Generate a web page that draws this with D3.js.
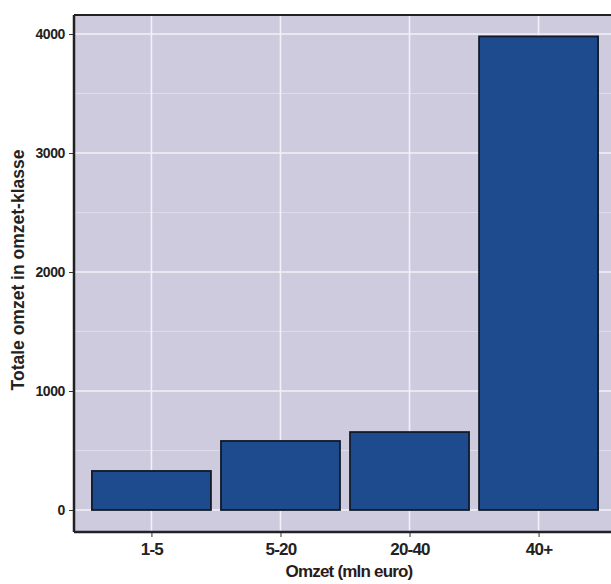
<!DOCTYPE html>
<html><head><meta charset="utf-8">
<script src="https://cdn.jsdelivr.net/npm/d3@7"></script>
<style>body{margin:0;background:#fff}svg{display:block}</style>
</head><body>
<svg id="c" width="611" height="584"></svg>
<script>
const categories = ["1-5", "5-20", "20-40", "40+"];
const values = [328, 580, 655, 3980];
const yTicks = [0, 1000, 2000, 3000, 4000];
const yMinor = [500, 1500, 2500, 3500];
const xTitle = "Omzet (mln euro)";
const yTitle = "Totale omzet in omzet-klasse";

const svg = d3.select("#c");
const L = 74, R = 616, T = 15, B = 532;
const step = (R - L) / (categories.length + 0.2);
const xc = d3.scalePoint().domain(categories).range([L + 0.6 * step, R - 0.6 * step]);
const bw = 119;
const y = d3.scaleLinear().domain([-185, 4160]).range([B, T]);
const FONT = "Liberation Sans, Arial, sans-serif";

svg.append("rect").attr("x", L).attr("y", T).attr("width", R - L).attr("height", B - T).attr("fill", "#cecbdf");

const g = svg.append("g");
g.selectAll(".mn").data(yMinor).join("line").attr("x1", L).attr("x2", R)
  .attr("y1", d => y(d)).attr("y2", d => y(d)).attr("stroke", "#dfdcec").attr("stroke-width", 1);
g.selectAll(".mj").data(yTicks).join("line").attr("x1", L).attr("x2", R)
  .attr("y1", d => y(d)).attr("y2", d => y(d)).attr("stroke", "#f2f1f8").attr("stroke-width", 1.6);
g.selectAll(".vx").data(categories).join("line").attr("y1", T).attr("y2", B)
  .attr("x1", d => xc(d)).attr("x2", d => xc(d)).attr("stroke", "#f2f1f8").attr("stroke-width", 1.6);

svg.selectAll(".bar").data(categories).join("rect")
  .attr("x", d => xc(d) - bw / 2).attr("width", bw)
  .attr("y", (d, i) => y(values[i])).attr("height", (d, i) => y(0) - y(values[i]))
  .attr("fill", "#1d4b8e").attr("stroke", "#111a2a").attr("stroke-width", 1.8);

svg.append("line").attr("x1", L).attr("x2", R).attr("y1", T).attr("y2", T).attr("stroke", "#222").attr("stroke-width", 2);
svg.append("line").attr("x1", L).attr("x2", L).attr("y1", T).attr("y2", B).attr("stroke", "#222").attr("stroke-width", 2.5);
svg.append("line").attr("x1", L).attr("x2", R).attr("y1", B).attr("y2", B).attr("stroke", "#222").attr("stroke-width", 2.5);

const yAxis = svg.append("g").attr("transform", `translate(${L - 1},0)`)
  .call(d3.axisLeft(y).tickValues(yTicks).tickSize(4).tickPadding(4).tickFormat(d3.format("d")));
yAxis.select(".domain").remove();
yAxis.selectAll("text").attr("font-family", FONT).attr("font-size", 14).attr("font-weight", "bold").attr("fill", "#222").attr("letter-spacing", "-0.4");
yAxis.selectAll("line").attr("stroke", "#333");

const xAxis = svg.append("g").attr("transform", `translate(0,${B + 1})`)
  .call(d3.axisBottom(xc).tickSize(4).tickPadding(6));
xAxis.select(".domain").remove();
xAxis.selectAll("text").attr("font-family", FONT).attr("font-size", 17).attr("font-weight", "bold").attr("fill", "#222").attr("letter-spacing", "-0.8");
xAxis.selectAll("line").attr("stroke", "#333");

svg.append("text").attr("x", 349).attr("y", 577).attr("text-anchor", "middle")
  .attr("font-family", FONT).attr("font-size", 17).attr("font-weight", "bold")
  .attr("fill", "#2a1a1a").attr("letter-spacing", "-0.8").text(xTitle);
svg.append("text").attr("transform", `translate(24,270) rotate(-90)`).attr("text-anchor", "middle")
  .attr("font-family", FONT).attr("font-size", 17.5).attr("font-weight", "bold")
  .attr("fill", "#222").text(yTitle);
</script>
</body></html>
